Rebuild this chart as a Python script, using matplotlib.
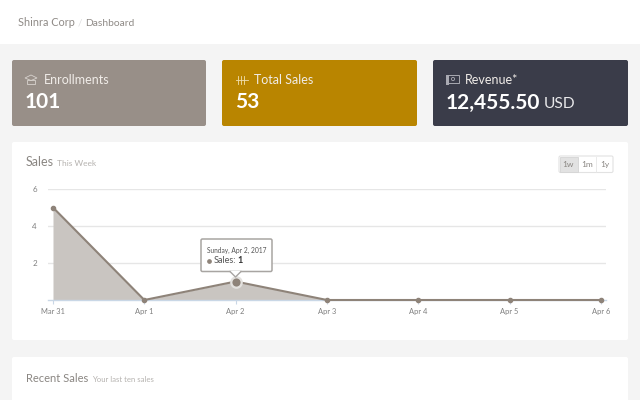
#!/usr/bin/env python3
"""
Shinra Corp dashboard: cards and weekly sales chart
"""

import matplotlib
matplotlib.use('Agg')
import matplotlib.pyplot as plt
from matplotlib.patches import FancyBboxPatch, Rectangle, Polygon, Circle

# chart data
days = ['Mar 31', 'Apr 1', 'Apr 2', 'Apr 3', 'Apr 4', 'Apr 5', 'Apr 6']
sales = [5, 0, 1, 0, 0, 0, 0]
y_ticks = [2, 4, 6]

# cards
card_titles = ['Enrollments', 'Total Sales', 'Revenue*']
card_values = ['101', '53', '12,455.50']
card_colors = ['#988f88', '#b98500', '#3a3c49']

range_labels = ['1w', '1m', '1y']

W, H = 640, 400
plt.rcParams['font.family'] = ['Lato', 'DejaVu Sans']

fig = plt.figure(figsize=(W / 100, H / 100), dpi=100, facecolor='#f4f4f4')

# page layer in pixel coordinates
page = fig.add_axes([0, 0, 1, 1], zorder=0)
page.set_xlim(0, W)
page.set_ylim(H, 0)
page.axis('off')


def round_box(ax, x0, y0, x1, y1, color, edge='none', r=2, lw=0.8, z=1):
    box = FancyBboxPatch((x0 + r, y0 + r), x1 - x0 - 2 * r, y1 - y0 - 2 * r,
                         boxstyle=f'round,pad={r},rounding_size={r}',
                         fc=color, ec=edge, lw=lw, zorder=z)
    ax.add_patch(box)
    return box


# header
page.add_patch(Rectangle((0, 0), W, 44, fc='white', ec='none'))
page.text(18, 23, 'Shinra Corp', fontsize=7.8, color='#8f8a86', va='center')
page.text(77.5, 23, '/', fontsize=7, color='#dddddd', va='center')
page.text(85, 23, 'Dashboard', fontsize=7.4, color='#8f8a86', va='center')

# cards
card_x = [(12, 206), (222, 417), (433, 628)]
for (x0, x1), title, value, color in zip(card_x, card_titles, card_values, card_colors):
    round_box(page, x0, 60, x1, 126, color)
    page.text(x0 + 31.5, 80, title, fontsize=9, color='#f0ece8', va='center')
    page.text(x0 + 13, 102.5, value, fontsize=15, color='white', va='center', fontweight='bold')
page.text(544, 103.5, 'USD', fontsize=11.2, color='#e8e8ea', va='center')

# card icons
icon = '#d8d3ce'
page.add_patch(Polygon([(25, 78), (31, 75), (37, 78), (31, 80.5)], fc='none', ec=icon, lw=0.6))
page.add_patch(Rectangle((27, 79.5), 8, 4, fc='none', ec=icon, lw=0.6))
for x in (238, 241, 244):
    page.plot([x, x], [76, 84], color='#f0dfb0', lw=0.6)
page.plot([236, 248], [80, 80], color='#f0dfb0', lw=0.6)
page.add_patch(Rectangle((446, 75), 13, 8, fc='none', ec='#a9aab2', lw=0.7))
page.add_patch(Rectangle((446, 75), 3, 10, fc='#a9aab2', ec='none'))
page.add_patch(Circle((453, 79), 1.6, fc='none', ec='#a9aab2', lw=0.6))

# panels
round_box(page, 12, 142, 628, 340, 'white')
round_box(page, 12, 357, 628, 420, 'white')
page.text(26, 162, 'Sales', fontsize=9, color='#8a8682', va='center')
page.text(57, 163.5, 'This Week', fontsize=6, color='#b5b2af', va='center')
page.text(26, 378, 'Recent Sales', fontsize=8, color='#8a8682', va='center')
page.text(92, 379, 'Your last ten sales', fontsize=5.6, color='#b5b2af', va='center')

# range buttons
btn_x = [(559, 578), (578, 596), (596, 613)]
round_box(page, 559, 156, 613, 172.5, 'white', edge='#e2e2e2', r=1.5)
page.add_patch(Rectangle((559.5, 156.5), 18.5, 15.5, fc='#e2e2e2', ec='#d4d4d4', lw=0.6, zorder=2))
page.plot([596, 596], [156.5, 172], color='#e6e6e6', lw=0.6, zorder=2)
for (x0, x1), lab in zip(btn_x, range_labels):
    page.text((x0 + x1) / 2, 164.5, lab, fontsize=6, color='#8a8682', ha='center', va='center', zorder=3)

# chart
px0, px1 = 48, 606
py_top, py_bottom = 189, 300
ax = fig.add_axes([px0 / W, 1 - py_bottom / H, (px1 - px0) / W, (py_bottom - py_top) / H], zorder=1)
ax.patch.set_alpha(0)
x = list(range(len(days)))
pad = 5 / 91.33
ax.set_xlim(-pad, x[-1] + pad)
ax.set_ylim(0, 6)
ax.grid(axis='y', color='#e6e6e6', lw=1)
ax.set_axisbelow(True)
ax.fill_between(x, sales, 0, color='#c9c5c1', lw=0, zorder=2)
ax.plot(x, sales, color='#8e8379', lw=1.5, marker='o', ms=3, zorder=3, clip_on=False)
ax.plot(x[2], sales[2], 'o', ms=7.5, mfc='#8e8379', mec='#e4e2df', mew=1.6, zorder=4)

for s in ('top', 'left', 'right'):
    ax.spines[s].set_visible(False)
ax.spines['bottom'].set_color('#c9d7e6')
ax.spines['bottom'].set_linewidth(1)
ax.set_xticks(x, days)
ax.set_yticks(y_ticks)
ax.tick_params(axis='x', length=3, width=0.8, color='#c9d7e6', labelsize=5.4, labelcolor='#7f7f7f', pad=2.8)
ax.tick_params(axis='y', length=0, labelsize=5.8, labelcolor='#7f7f7f', pad=8)

# tooltip
top = fig.add_axes([0, 0, 1, 1], zorder=2)
top.set_xlim(0, W)
top.set_ylim(H, 0)
top.axis('off')
round_box(top, 201, 239, 272, 271.5, 'white', edge='#a8a5a2', r=1.5, lw=1.1, z=3)
top.add_patch(Polygon([(230, 271), (235.5, 277), (241, 271)], fc='white', ec='none', zorder=4))
top.plot([230, 235.5, 241], [271.5, 277, 271.5], color='#a8a5a2', lw=1, zorder=4)
top.text(207, 250.5, 'Sunday, Apr 2, 2017', fontsize=4.8, color='#555555', va='center', zorder=5)
top.plot([209], [260.5], 'o', ms=2.4, color='#8e8379', zorder=5)
top.text(214, 260.5, 'Sales:', fontsize=6.6, color='#555555', va='center', zorder=5)
top.text(237, 260.5, '1', fontsize=6.6, color='#333333', va='center', fontweight='bold', zorder=5)

fig.savefig('out.png', dpi=100, facecolor=fig.get_facecolor())
